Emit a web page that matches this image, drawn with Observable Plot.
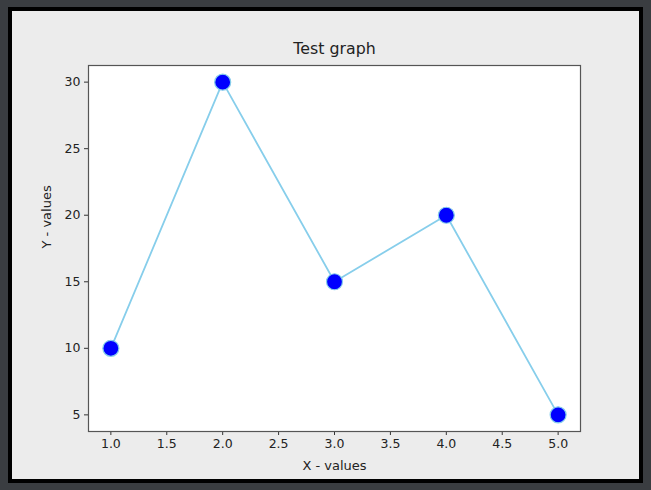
<!DOCTYPE html>
<html>
<head>
<meta charset="utf-8">
<script src="https://cdn.jsdelivr.net/npm/d3@7"></script>
<script src="https://cdn.jsdelivr.net/npm/@observablehq/plot@0.6"></script>
<style>
  html, body { margin: 0; padding: 0; background: #3a3d41; width: 651px; height: 490px; overflow: hidden; }
  #frame { position: absolute; left: 8px; top: 7px; width: 627px; height: 468px; border: 4px solid #000; background: #ececec; }
  #frame svg { display: block; background: transparent; }
</style>
</head>
<body>
<div id="frame"></div>
<script>
const xValues = [1, 2, 3, 4, 5];
const yValues = [10, 30, 15, 20, 5];
const xTicks = [1.0, 1.5, 2.0, 2.5, 3.0, 3.5, 4.0, 4.5, 5.0];
const yTicks = [5, 10, 15, 20, 25, 30];
const titleText = "Test graph";
const xLabel = "X - values";
const yLabel = "Y - values";

const data = xValues.map((x, i) => ({x, y: yValues[i]}));
const font = "DejaVu Sans, sans-serif";

const chart = Plot.plot({
  width: 627,
  height: 468,
  marginLeft: 76,
  marginTop: 54,
  marginRight: 59,
  marginBottom: 48,
  style: {fontFamily: font, fontSize: "12px", color: "#222", background: "transparent"},
  x: {domain: [0.8, 5.2]},
  y: {domain: [3.75, 31.25]},
  marks: [
    Plot.frame({fill: "white", stroke: "none"}),
    Plot.axisX({ticks: xTicks, tickFormat: d3.format(".1f"), tickSize: 4, tickPadding: 4, label: null, fontSize: 12.5, stroke: "#333", fill: "#222"}),
    Plot.axisY({ticks: yTicks, tickFormat: d3.format("d"), tickSize: 4, tickPadding: 4, label: null, fontSize: 12.5, stroke: "#333", fill: "#222"}),
    Plot.line(data, {x: "x", y: "y", stroke: "#87ceeb", strokeWidth: 1.8}),
    Plot.dot(data, {x: "x", y: "y", r: 8, fill: "#0000ff", stroke: "#87ceeb", strokeWidth: 1.2}),
    Plot.frame({stroke: "#555", strokeWidth: 1.2}),
    Plot.text([titleText], {text: d => d, frameAnchor: "top", dy: -16.5, fontSize: 15.8, lineAnchor: "middle", fill: "#222"}),
    Plot.text([xLabel], {text: d => d, frameAnchor: "bottom", dy: 34, fontSize: 13, lineAnchor: "middle", fill: "#222"}),
    Plot.text([yLabel], {text: d => d, frameAnchor: "left", dx: -42, rotate: -90, fontSize: 13, lineAnchor: "middle", fill: "#222"})
  ]
});
document.getElementById("frame").appendChild(chart);
</script>
</body>
</html>
